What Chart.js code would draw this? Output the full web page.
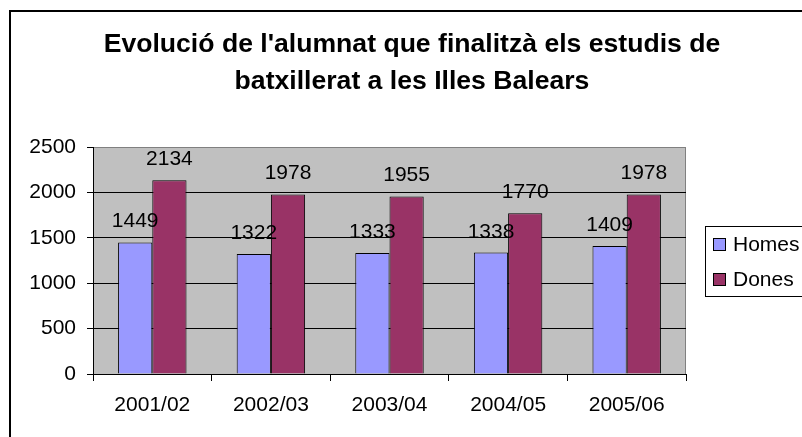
<!DOCTYPE html>
<html>
<head>
<meta charset="utf-8">
<script src="https://cdn.jsdelivr.net/npm/chart.js@4/dist/chart.umd.min.js"></script>
<style>
  html, body { margin: 0; padding: 0; background: #ffffff; overflow: hidden; }
  #wrap { position: relative; width: 802px; height: 437px; }
  canvas { display: block; }
</style>
</head>
<body>
<div id="wrap"><canvas id="c" width="802" height="437"></canvas></div>
<script>
const categories = ['2001/02', '2002/03', '2003/04', '2004/05', '2005/06'];
const homes = [1449, 1322, 1333, 1338, 1409];
const dones = [2134, 1978, 1955, 1770, 1978];
const seriesNames = ['Homes', 'Dones'];
const yTicks = [0, 500, 1000, 1500, 2000, 2500];
const titleLines = ["Evolució de l'alumnat que finalitzà els estudis de", 'batxillerat a les Illes Balears'];

const FONT = '"Liberation Sans", Arial, sans-serif';
const COLORS = ['#9999FF', '#993366'];

const decorPlugin = {
  id: 'decor',
  beforeDraw(chart) {
    const ctx = chart.ctx;
    const a = chart.chartArea;
    ctx.save();
    ctx.fillStyle = '#ffffff';
    ctx.fillRect(0, 0, chart.width, chart.height);
    // outer frame (left and top edges visible)
    ctx.fillStyle = '#000000';
    ctx.fillRect(9, 10, 2, chart.height - 10);
    ctx.fillRect(9, 10, chart.width - 9, 2);
    // plot area background
    ctx.fillStyle = '#C0C0C0';
    ctx.fillRect(a.left, a.top, a.right - a.left, a.bottom - a.top);
    // right border of plot area
    ctx.strokeStyle = '#808080';
    ctx.lineWidth = 1;
    ctx.beginPath();
    ctx.moveTo(a.right - 0.5, a.top);
    ctx.lineTo(a.right - 0.5, a.bottom);
    ctx.stroke();
    // title
    ctx.fillStyle = '#000000';
    ctx.font = 'bold 26.6px ' + FONT;
    ctx.textAlign = 'center';
    ctx.textBaseline = 'alphabetic';
    ctx.fillText(titleLines[0], 412, 52);
    ctx.fillText(titleLines[1], 412, 89);
    ctx.restore();
  },
  afterDatasetsDraw(chart) {
    const ctx = chart.ctx;
    ctx.save();
    ctx.fillStyle = '#000000';
    ctx.font = '21px ' + FONT;
    ctx.textAlign = 'center';
    ctx.textBaseline = 'alphabetic';
    chart.data.datasets.forEach((ds, di) => {
      const meta = chart.getDatasetMeta(di);
      meta.data.forEach((el, i) => {
        ctx.fillText(String(ds.data[i]), el.x, el.y - 15);
      });
    });
    ctx.restore();
  },
  afterDraw(chart) {
    const ctx = chart.ctx;
    ctx.save();
    // legend box
    ctx.strokeStyle = '#000000';
    ctx.lineWidth = 1;
    ctx.strokeRect(705.5, 226.5, 120, 70);
    const rows = [{ y: 238 }, { y: 273 }];
    ctx.font = '21px ' + FONT;
    ctx.textAlign = 'left';
    ctx.textBaseline = 'alphabetic';
    chart.data.datasets.forEach((ds, i) => {
      const y = rows[i].y;
      ctx.fillStyle = ds.backgroundColor;
      ctx.fillRect(713, y, 13, 13);
      ctx.strokeStyle = '#000000';
      ctx.strokeRect(713.5, y + 0.5, 12, 12);
      ctx.fillStyle = '#000000';
      ctx.fillText(ds.label, 733, y + 13);
    });
    ctx.restore();
  }
};

new Chart(document.getElementById('c'), {
  type: 'bar',
  data: {
    labels: categories,
    datasets: [
      { label: seriesNames[0], data: homes, backgroundColor: COLORS[0], borderColor: '#000000', borderWidth: 1 },
      { label: seriesNames[1], data: dones, backgroundColor: COLORS[1], borderColor: '#000000', borderWidth: 1 }
    ]
  },
  options: {
    responsive: false,
    animation: false,
    devicePixelRatio: 1,
    layout: { padding: { top: 147, right: 116, left: 0, bottom: 0 } },
    datasets: { bar: { categoryPercentage: 0.577, barPercentage: 1.0 } },
    plugins: {
      legend: { display: false },
      title: { display: false },
      tooltip: { enabled: false }
    },
    scales: {
      x: {
        afterFit(scale) { scale.height = 63; },
        border: { color: '#000000', width: 1 },
        grid: { offset: true, drawOnChartArea: false, drawTicks: true, tickLength: 7, tickColor: '#000000', color: '#000000' },
        ticks: { color: '#000000', font: { family: FONT, size: 21 }, padding: 12, maxRotation: 0 }
      },
      y: {
        min: 0, max: 2500,
        afterFit(scale) { scale.width = 93; },
        afterBuildTicks(scale) { scale.ticks = yTicks.map(v => ({ value: v })); },
        border: { color: '#000000', width: 1 },
        grid: {
          drawTicks: true, tickLength: 6, tickColor: '#000000',
          color: (c) => (c.tick && c.tick.value === 2500) ? '#808080' : '#000000'
        },
        ticks: {
          color: '#000000', font: { family: FONT, size: 21 }, padding: 11,
          callback: (v) => String(v)
        }
      }
    }
  },
  plugins: [decorPlugin]
});
</script>
</body>
</html>
